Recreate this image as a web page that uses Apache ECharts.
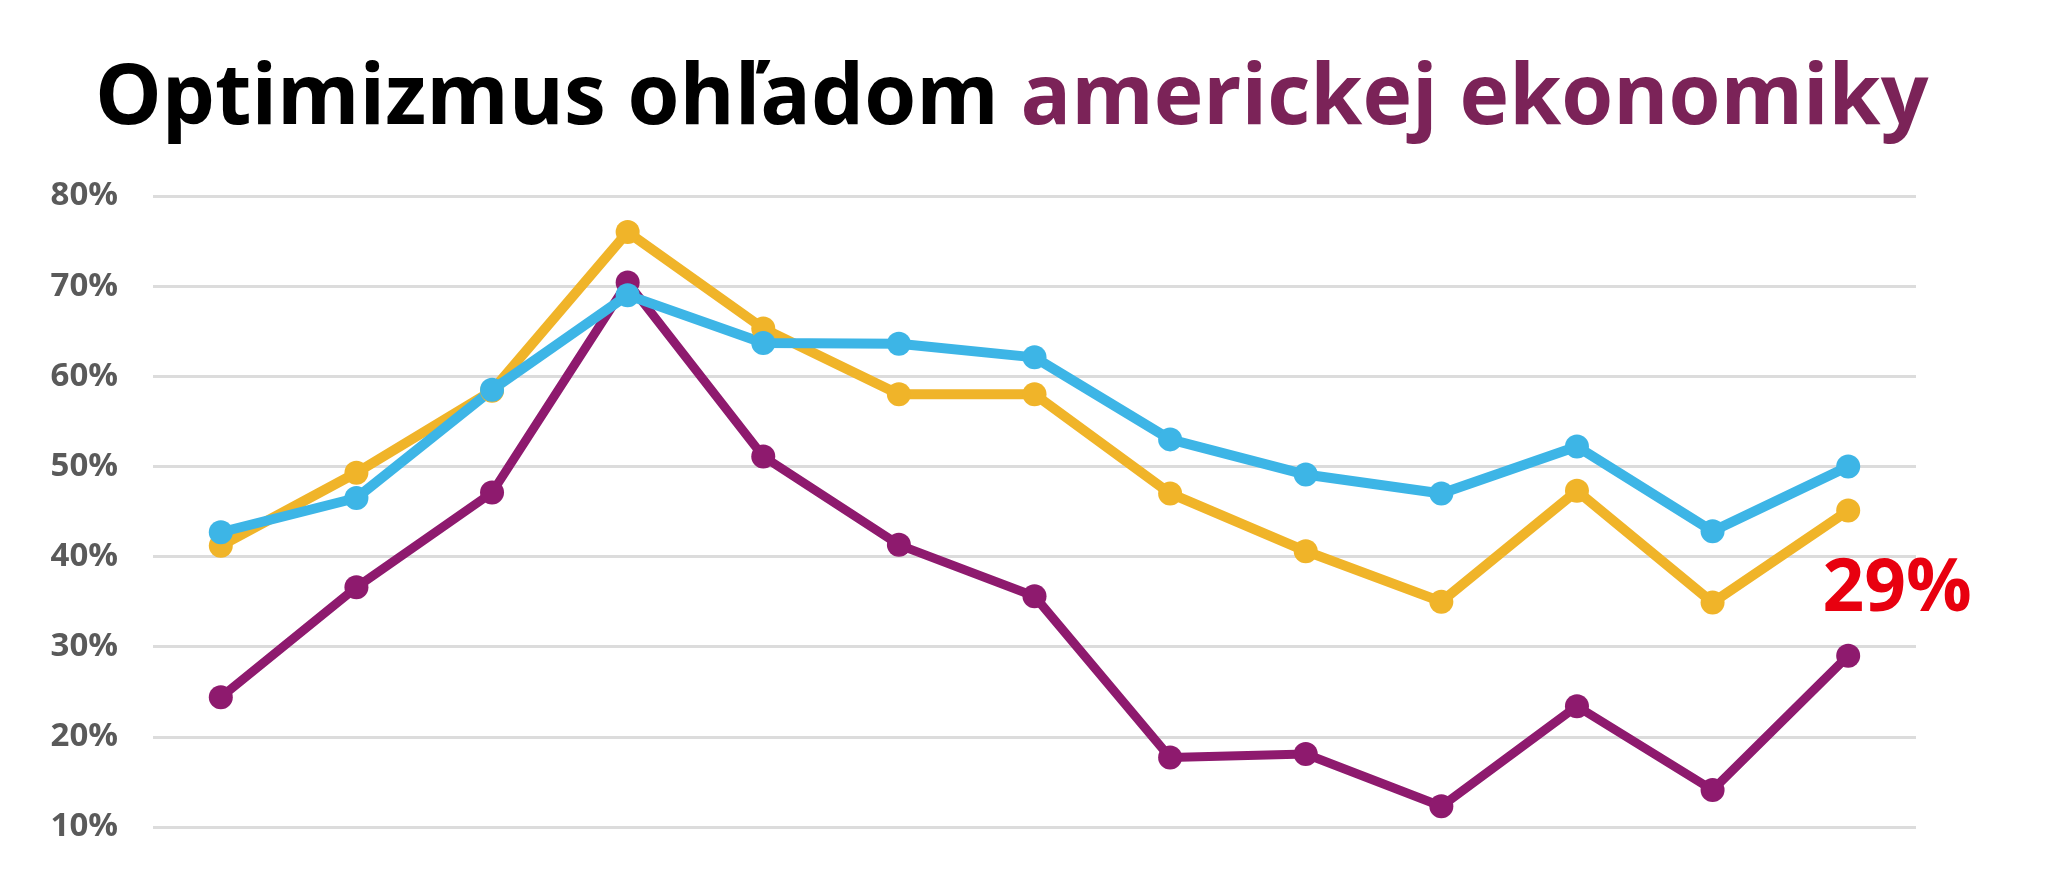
<!DOCTYPE html>
<html>
<head>
<meta charset="utf-8">
<title>Optimizmus ohľadom americkej ekonomiky</title>
<script src="https://cdn.jsdelivr.net/npm/echarts@6/dist/echarts.min.js"></script>
<style>
  html, body { margin: 0; padding: 0; background: #fff; }
  #chart { width: 2048px; height: 896px; }
</style>
</head>
<body>
<div id="chart"></div>
<script>
// kategorie (bez popisov na osi x)
const categories = ["1", "2", "3", "4", "5", "6", "7", "8", "9", "10", "11", "12", "13"];

// hodnoty v percentach
const purpleValues = [24.4, 36.6, 47.1, 70.4, 51.1, 41.3, 35.6, 17.7, 18.1, 12.3, 23.4, 14.1, 29];
const yellowValues = [41.2, 49.3, 58.4, 76, 65.3, 58, 58, 47, 40.6, 35, 47.3, 34.9, 45.1];
const blueValues = [42.7, 46.5, 58.5, 69, 63.7, 63.6, 62.1, 53, 49.1, 47, 52.2, 42.8, 50];

// os y
const yMin = 10;
const yMax = 80;
const yStep = 10;

const titleBlack = "Optimizmus ohľadom ";
const titlePurple = "americkej ekonomiky";
const lastLabel = "29%";

const myChart = echarts.init(document.getElementById("chart"));

//posledny bod fialovej krivky dostane velky cerveny popis
const purpleData = purpleValues.map((v, i) => {
  if (i !== purpleValues.length - 1) return v;
  return {
    value: v,
    label: {
      show: true,
      formatter: lastLabel,
      position: "top",
      offset: [49, -12],
      color: "#e8000f",
      fontSize: 73,
      fontWeight: "bold",
      fontFamily: "Open Sans"
    }
  };
});

function lineSeries(name, data, color, width, size) {
  return {
    name: name,
    type: "line",
    data: data,
    symbol: "circle",
    symbolSize: size,
    showSymbol: true,
    color: color,
    lineStyle: { width: width, color: color },
    itemStyle: { color: color },
    emphasis: { disabled: true },
    animation: false
  };
}

const option = {
  backgroundColor: "#fff",
  title: {
    text: "{a|" + titleBlack + "}{b|" + titlePurple + "}",
    left: 90,
    top: 50,
    textStyle: {
      rich: {
        a: { fontSize: 84, fontWeight: "bold", fontFamily: "Open Sans", color: "#000", lineHeight: 90 },
        b: { fontSize: 84, fontWeight: "bold", fontFamily: "Open Sans", color: "#7b2358", lineHeight: 90 }
      }
    }
  },
  grid: {
    left: 153,
    right: 132,
    top: 196,
    bottom: 69
  },
  xAxis: {
    type: "category",
    data: categories,
    boundaryGap: true,
    axisLine: { show: false },
    axisTick: { show: false },
    axisLabel: { show: false },
    splitLine: { show: false }
  },
  yAxis: {
    type: "value",
    min: yMin,
    max: yMax,
    interval: yStep,
    axisLine: { show: false },
    axisTick: { show: false },
    axisLabel: {
      formatter: "{value}%",
      margin: 35,
      fontSize: 33,
      fontWeight: "bold",
      fontFamily: "Open Sans",
      color: "#5a5a5a"
    },
    splitLine: { lineStyle: { color: "#dcdcdc", width: 3 } }
  },
  series: [
    lineSeries("fialova", purpleData, "#8e1a6e", 9, 24),
    lineSeries("zlta", yellowValues, "#f0b429", 10, 24),
    lineSeries("modra", blueValues, "#3db5e6", 10, 24)
  ]
};
myChart.setOption(option);
</script>
</body>
</html>
